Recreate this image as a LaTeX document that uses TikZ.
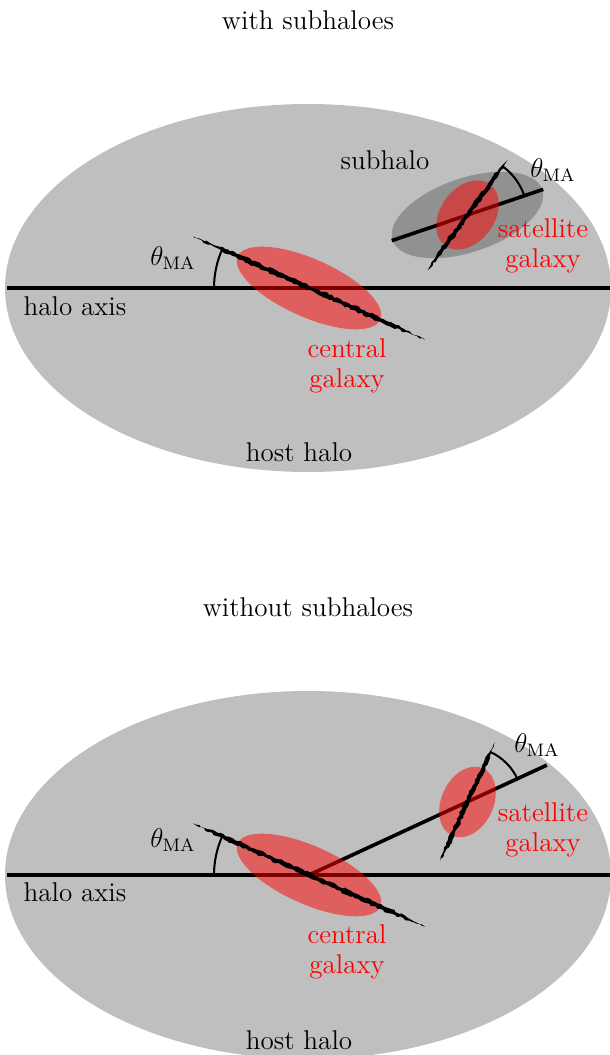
\documentclass[tikz,border=0pt]{standalone}
\usetikzlibrary{calc,decorations.pathmorphing}
\pgfmathsetseed{7}
\newcommand\jagline[4]{%
  \fill[jag] ($(#1)+({#2}:{#3})$)
    -- ($(#1)+({#2}:{0.7*#3})+({#2+90}:{#4})$)
    -- ($(#1)+({#2+180}:{0.7*#3})+({#2+90}:{#4})$)
    -- ($(#1)+({#2+180}:{#3})$)
    -- ($(#1)+({#2+180}:{0.7*#3})+({#2-90}:{#4})$)
    -- ($(#1)+({#2}:{0.7*#3})+({#2-90}:{#4})$)
    -- cycle;}
\tikzset{
  jag/.style={fill=black, decorate, decoration={random steps, segment length=1.3pt, amplitude=0.45pt}},
  halo/.style={fill=black!25},
  subhalofill/.style={fill=black, fill opacity=0.24},
  galfill/.style={fill=red, fill opacity=0.5},
  axisline/.style={line width=1.6pt},
  satline/.style={line width=1.6pt},
  angarc/.style={line width=0.9pt},
  lbl/.style={inner sep=0pt, font=\fontsize{12}{12.5}\selectfont},
  rlbl/.style={lbl, text=red},
}
\begin{document}
\begin{tikzpicture}[x=0.4427pt, y=0.4427pt]
\useasboundingbox (0,0) rectangle (610,1055);
% ================= TOP PANEL =================
\node[lbl] (title1) at (308,1035) {with subhaloes};
\coordinate (H1) at (308,767);
\fill[halo] (H1) ellipse [x radius=303, y radius=184];
\coordinate (C1) at (309,767);
\coordinate (S1) at (467.5,840);
\fill[subhalofill, rotate around={18.7:(S1)}] (S1) ellipse [x radius=79, y radius=37];
\coordinate (ax1a) at (7,767);
\coordinate (ax1b) at (612,767);
\draw[axisline] (ax1a) -- (ax1b);
\coordinate (sa1) at ($(S1)+(198.7:80)$);
\coordinate (sb1) at ($(S1)+(18.7:80)$);
\draw[satline] (sa1) -- (sb1);
\fill[galfill, rotate around={-24:(C1)}] (C1) ellipse [x radius=78, y radius=29];
\fill[galfill, rotate around={54:(S1)}] (S1) ellipse [x radius=38, y radius=27];
\jagline{C1}{-24}{127}{2.3}
\jagline{S1}{54}{68}{2.2}
\draw[angarc] ($(C1)+(180:95)$) arc [start angle=180, end angle=156, radius=95];
\draw[angarc] ($(S1)+(18.7:60)$) arc [start angle=18.7, end angle=54, radius=60];
\node[lbl] (th1a) at (173,797) {$\theta_{\mathrm{MA}}$};
\node[lbl] (th1b) at (553,885) {$\theta_{\mathrm{MA}}$};
\node[lbl] (hax1) at (75,749) {halo axis};
\node[rlbl, align=center] (cg1) at (347,689) {central\\[1pt]galaxy};
\node[rlbl, align=center] (sg1) at (543,809) {satellite\\[1pt]galaxy};
\node[lbl] (sub1) at (385,895) {subhalo};
\node[lbl] (hh1) at (299,603) {host halo};
% ================= BOTTOM PANEL =================
\node[lbl] (title2) at (308,448) {without subhaloes};
\coordinate (H2) at (308,180);
\fill[halo] (H2) ellipse [x radius=303, y radius=184];
\coordinate (C2) at (309,180);
\coordinate (T2) at (467.5,253);
\coordinate (ax2a) at (7,180);
\coordinate (ax2b) at (612,180);
\draw[axisline] (ax2a) -- (ax2b);
\coordinate (te2) at ($(C2)+(24.8:262)$);
\draw[satline] (C2) -- (te2);
\fill[galfill, rotate around={-24:(C2)}] (C2) ellipse [x radius=78, y radius=29];
\fill[galfill, rotate around={65:(T2)}] (T2) ellipse [x radius=37, y radius=26];
\jagline{C2}{-24}{127}{2.3}
\jagline{T2}{65.2}{65.5}{2.2}
\draw[angarc] ($(C2)+(180:95)$) arc [start angle=180, end angle=156, radius=95];
\draw[angarc] ($(T2)+(24.8:55)$) arc [start angle=24.8, end angle=65.2, radius=55];
\node[lbl] (th2a) at (173,215) {$\theta_{\mathrm{MA}}$};
\node[lbl] (th2b) at (537,310) {$\theta_{\mathrm{MA}}$};
\node[lbl] (hax2) at (75,163) {halo axis};
\node[rlbl, align=center] (cg2) at (347,103) {central\\[1pt]galaxy};
\node[rlbl, align=center] (sg2) at (543,225) {satellite\\[1pt]galaxy};
\node[lbl] (hh2) at (299,15) {host halo};
\end{tikzpicture}
\end{document}
